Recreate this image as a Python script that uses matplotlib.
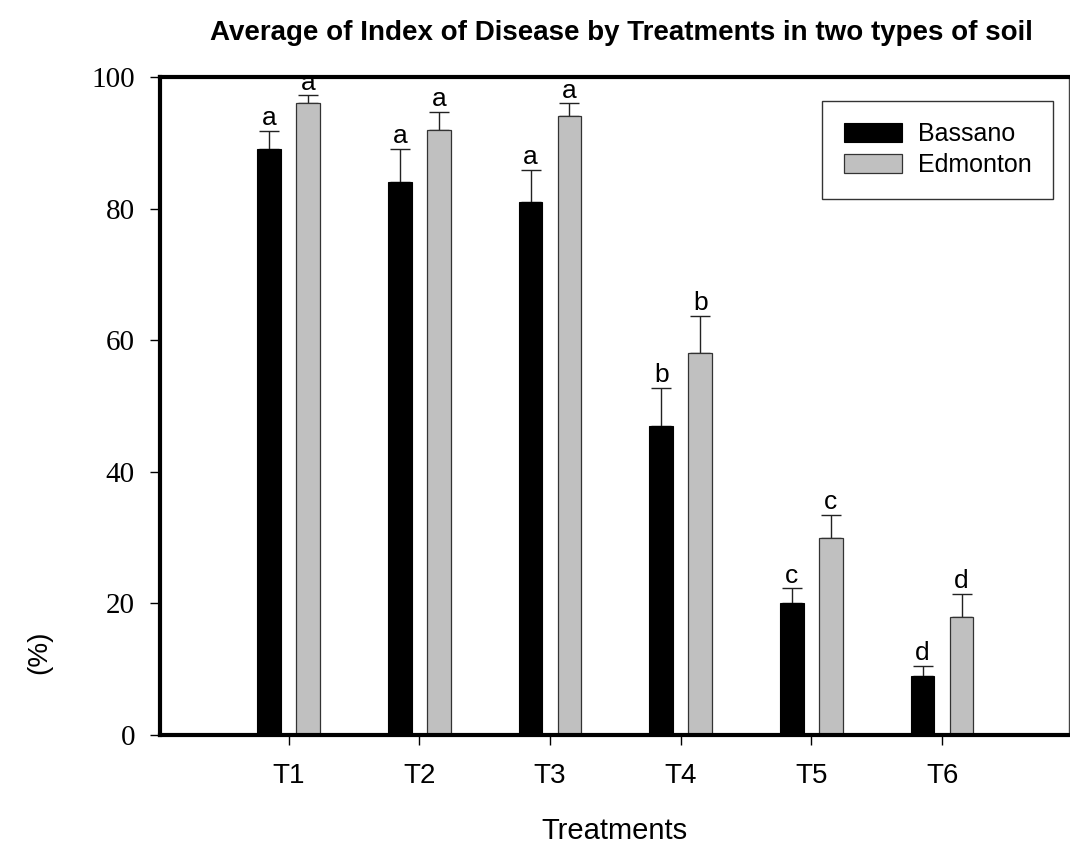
import numpy as np
import matplotlib
matplotlib.use("Agg")
import matplotlib.pyplot as plt

# disease index (%) per treatment, two soils
treatments = ["T1", "T2", "T3", "T4", "T5", "T6"]
bassano = [89, 84, 81, 47, 20, 9]
bassano_err = [2.8, 5.1, 4.9, 5.8, 2.3, 1.5]
edmonton = [96, 92, 94, 58, 30, 18]
edmonton_err = [1.2, 2.7, 2.0, 5.7, 3.5, 3.5]
letters_b = ["a", "a", "a", "b", "c", "d"]
letters_e = ["a", "a", "a", "b", "c", "d"]

sans = ["Liberation Sans", "DejaVu Sans"]
serif = ["Liberation Serif", "DejaVu Serif"]

fig = plt.figure(figsize=(10.7, 8.49), dpi=100)
ax = fig.add_axes([0.1495, 0.1343, 0.8495, 0.775])

x = np.arange(1, len(treatments) + 1)
off = 0.149
w = 0.18

ax.bar(x - off, bassano, w, color="black", edgecolor="black", linewidth=0.8,
       label="Bassano", zorder=2)
ax.bar(x + off, edmonton, w, color="#c0c0c0", edgecolor="#333333", linewidth=0.9,
       label="Edmonton", zorder=2)

# upper error bars only
ax.errorbar(x - off, bassano, yerr=[np.zeros(6), bassano_err], fmt="none",
            ecolor="#222222", elinewidth=1.0, capsize=7, capthick=1.0, zorder=1)
ax.errorbar(x + off, edmonton, yerr=[np.zeros(6), edmonton_err], fmt="none",
            ecolor="#222222", elinewidth=1.0, capsize=7, capthick=1.0, zorder=1)

for xi, v, e, t in zip(x - off, bassano, bassano_err, letters_b):
    ax.annotate(t, (xi, v + e), xytext=(0, 0.5), textcoords="offset points",
                ha="center", va="bottom", fontsize=19, family=sans)
for xi, v, e, t in zip(x + off, edmonton, edmonton_err, letters_e):
    ax.annotate(t, (xi, v + e), xytext=(0, 0.5), textcoords="offset points",
                ha="center", va="bottom", fontsize=19, family=sans)

ax.set_xlim(0.016, 6.97)
ax.set_ylim(0, 100)
ax.set_xticks(x)
ax.set_xticklabels(treatments, fontsize=20, family=sans)
ax.set_yticks(np.arange(0, 101, 20))
ax.set_yticklabels([str(v) for v in range(0, 101, 20)], fontsize=21, family=serif)
ax.tick_params(axis="y", direction="out", length=7, width=1, pad=11)
ax.tick_params(axis="x", direction="out", length=7, width=1, pad=13)

for s in ["left", "top", "bottom"]:
    ax.spines[s].set_linewidth(3)
ax.spines["right"].set_linewidth(1)
ax.spines["right"].set_color("#444444")

ax.set_xlabel("Treatments", fontsize=21, family=sans, labelpad=20)

fig.text(0.581, 0.961, "Average of Index of Disease by Treatments in two types of soil",
         ha="center", va="center", fontsize=20, fontweight="bold", family=sans)
fig.text(0.037, 0.232, "(%)", rotation=90, ha="center", va="center",
         fontsize=20, family=sans)

leg = ax.legend(loc="upper right", bbox_to_anchor=(0.983, 0.964),
                prop={"family": sans, "size": 18}, frameon=True, fancybox=False,
                edgecolor="black", handlelength=2.35, handleheight=0.8,
                borderpad=0.85, labelspacing=0.3, handletextpad=0.64, borderaxespad=0)
leg.get_frame().set_linewidth(1.0)

fig.savefig("out.png", dpi=100)
